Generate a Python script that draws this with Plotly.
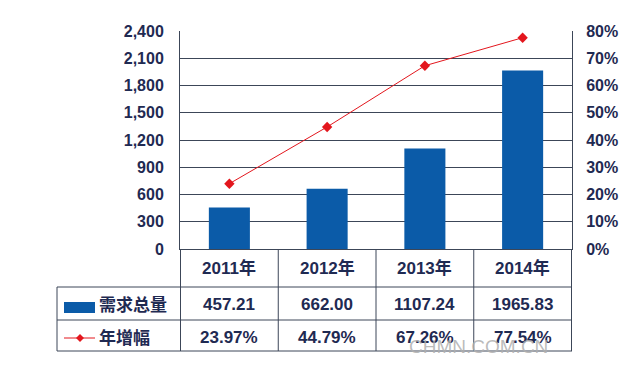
import plotly.graph_objects as go

categories = ["2011年", "2012年", "2013年", "2014年"]
demand = [457.21, 662.00, 1107.24, 1965.83]
growth = [0.2397, 0.4479, 0.6726, 0.7754]
demand_labels = ["457.21", "662.00", "1107.24", "1965.83"]
growth_labels = ["23.97%", "44.79%", "67.26%", "77.54%"]
series_names = ["需求总量", "年增幅"]
y_ticks = [0, 300, 600, 900, 1200, 1500, 1800, 2100, 2400]
y2_ticks = [0, 0.1, 0.2, 0.3, 0.4, 0.5, 0.6, 0.7, 0.8]

W, H = 643, 384
OFF = 8  # page body margin
# target plot area in screen pixels: x 180..572, y 31..249
L = 180 - OFF
T = 31 - OFF
R = W - (572 - OFF)
B = H - (249 - OFF)
PW, PH = W - L - R, H - T - B

def px(x):  # screen pixel x -> paper
    return (x - OFF - L) / PW

def py(y):  # screen pixel y -> paper
    return (H - B - (y - OFF)) / PH

BLUE = "#0b5ba8"
RED = "#e3161d"
TXT = "#1f2a52"
LINE = "#3c4658"
FONT = "Liberation Sans, Arial, Noto Sans CJK SC"

fig = go.Figure()
fig.add_trace(go.Bar(x=categories, y=demand, name=series_names[0],
                     marker=dict(color=BLUE, line=dict(width=0)), width=0.42,
                     yaxis="y"))
fig.add_trace(go.Scatter(x=categories, y=growth, name=series_names[1], mode="lines+markers",
                         line=dict(color=RED, width=1),
                         marker=dict(symbol="diamond", size=8, color=RED),
                         yaxis="y2"))

shapes = []
annotations = []
# table grid
for yy in [287, 320, 351]:
    shapes.append(dict(type="line", xref="paper", yref="paper", x0=px(57), x1=1,
                       y0=py(yy), y1=py(yy), line=dict(color=LINE, width=1)))
shapes.append(dict(type="line", xref="paper", yref="paper", x0=px(57), x1=px(57),
                   y0=py(287), y1=py(351), line=dict(color=LINE, width=1)))
for i in range(len(categories) + 1):
    shapes.append(dict(type="line", xref="x", yref="paper", x0=i - 0.5, x1=i - 0.5,
                       y0=0, y1=py(351), line=dict(color=LINE, width=1)))

font_tbl = dict(family=FONT, size=17, color=TXT, weight="bold")
for i, c in enumerate(categories):
    annotations.append(dict(x=c, xref="x", y=py(268), yref="paper", text=c,
                            xanchor="center", yanchor="middle",
                            showarrow=False, font=font_tbl))
    annotations.append(dict(x=c, xref="x", y=py(304), yref="paper", text=demand_labels[i],
                            xanchor="center", yanchor="middle",
                            showarrow=False, font=font_tbl))
    annotations.append(dict(x=c, xref="x", y=py(337), yref="paper", text=growth_labels[i],
                            xanchor="center", yanchor="middle",
                            showarrow=False, font=font_tbl))

# legend cells
shapes.append(dict(type="rect", xref="paper", yref="paper", x0=px(64), x1=px(95),
                   y0=py(302), y1=py(313), fillcolor=BLUE, line=dict(width=0)))
shapes.append(dict(type="line", xref="paper", yref="paper", x0=px(64), x1=px(95),
                   y0=py(338), y1=py(338), line=dict(color=RED, width=1)))
cx, cy, d = 80, 338, 4
shapes.append(dict(type="path", xref="paper", yref="paper",
                   path=f"M {px(cx-d)} {py(cy)} L {px(cx)} {py(cy-d)} L {px(cx+d)} {py(cy)} L {px(cx)} {py(cy+d)} Z",
                   fillcolor=RED, line=dict(width=0)))
annotations.append(dict(x=px(97), xref="paper", y=py(305), yref="paper", text=series_names[0],
                        xanchor="left", yanchor="middle", showarrow=False, font=font_tbl))
annotations.append(dict(x=px(97), xref="paper", y=py(338), yref="paper", text=series_names[1],
                        xanchor="left", yanchor="middle", showarrow=False, font=font_tbl))

# watermark
annotations.append(dict(x=px(478), xref="paper", y=py(346), yref="paper", text="CHMN.COM.CN",
                        xanchor="center", yanchor="middle", showarrow=False,
                        font=dict(family=FONT, size=19, color="rgba(175,175,175,0.85)")))

tickfont = dict(family=FONT, size=16, color=TXT, weight="bold")
fig.update_layout(
    width=W, height=H,
    margin=dict(l=L, r=R, t=T, b=B),
    paper_bgcolor="white", plot_bgcolor="white",
    showlegend=False,
    xaxis=dict(showticklabels=False, ticks="", showgrid=False, showline=True,
               linecolor=LINE, linewidth=1, zeroline=False),
    yaxis=dict(range=[0, 2400], tickvals=y_ticks, tickformat=",d", tickfont=tickfont,
               showgrid=True, gridcolor=LINE, gridwidth=1, showline=True, linecolor=LINE,
               linewidth=1, ticks="", ticklabelstandoff=12, zeroline=False),
    yaxis2=dict(range=[0, 0.8], tickvals=y2_ticks, tickformat=".0%", tickfont=tickfont,
                overlaying="y", side="right", showgrid=False, showline=True,
                linecolor=LINE, linewidth=1, ticks="", ticklabelstandoff=10, zeroline=False),
    shapes=shapes,
    annotations=annotations,
)

fig.write_html("out.html")
